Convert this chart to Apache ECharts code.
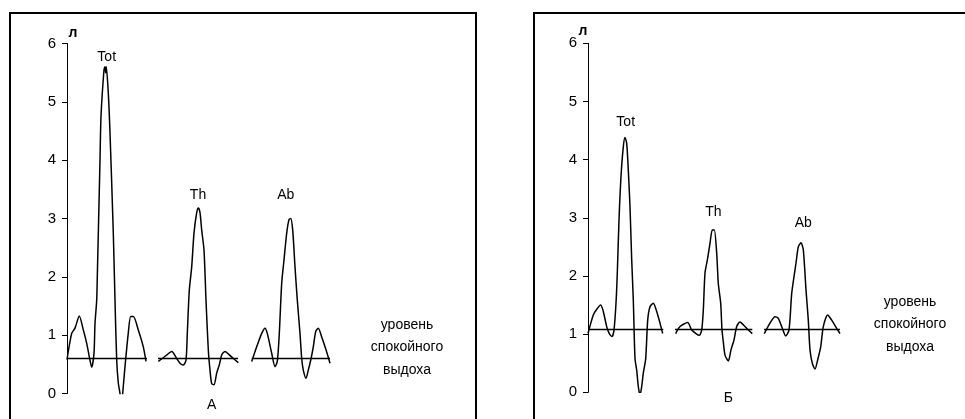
<!DOCTYPE html>
<html>
<head>
<meta charset="utf-8">
<script src="https://cdn.jsdelivr.net/npm/echarts@6/dist/echarts.min.js"></script>
<style>html,body{margin:0;padding:0;background:#fff;}#c{width:965px;height:419px;}</style>
</head>
<body>
<div id="c"></div>
<script>
// y-axis ticks (litres)
const yTicks = [0, 1, 2, 3, 4, 5, 6];

// Panel A (left): time (arbitrary units), volume (l)
const aTotT = [0, 4.7, 8, 12.3, 16.3, 19.7, 23, 24.7, 27, 28, 29.7, 30.3, 33, 34, 37, 38, 38.7, 39.3, 41.3, 43, 46.3, 48, 49.7, 51.3, 53, 54.5, 55.7, 58, 61.3, 63.7, 66.3, 71.3, 76.3, 79];
const aTotV = [0.58, 1.03, 1.12, 1.33, 1.09, 0.86, 0.57, 0.45, 0.69, 1.2, 1.6, 2.0, 4.0, 4.75, 5.55, 5.6, 5.5, 5.6, 5.15, 4.47, 2.75, 1.6, 0.57, 0.18, 0, -0.3, 0, 0.46, 1.04, 1.32, 1.32, 1.09, 0.8, 0.55];
const aThT = [91.3, 99.7, 104.7, 109.7, 113, 116.3, 119, 120.3, 122.3, 124.7, 127, 129.7, 131.3, 133, 134.7, 137, 139, 141.3, 143, 144.7, 147, 149.7, 152.3, 154.7, 158, 161.3, 166.3, 171.3];
const aThV = [0.55, 0.66, 0.72, 0.6, 0.52, 0.49, 0.57, 1.03, 1.77, 2.17, 2.75, 3.1, 3.18, 3.1, 2.8, 2.46, 1.6, 0.75, 0.4, 0.17, 0.15, 0.35, 0.49, 0.66, 0.72, 0.68, 0.6, 0.53];
const aAbT = [184.7, 189.7, 194.7, 198, 200.3, 204.7, 208, 210.3, 212.3, 214.7, 217, 219.7, 222, 223.7, 225.7, 228, 230.3, 233, 234.7, 236.3, 239, 241.3, 243.7, 246.3, 248.7, 251.3, 254.7, 259, 263];
const aAbV = [0.55, 0.8, 1.03, 1.12, 1.03, 0.69, 0.46, 0.55, 1.03, 1.89, 2.29, 2.75, 2.98, 3.0, 2.8, 2.17, 1.6, 1.03, 0.6, 0.4, 0.26, 0.4, 0.57, 0.8, 1.06, 1.12, 0.97, 0.75, 0.52];
const aRest = 0.6;
const aRestSpans = [[0, 80], [91, 171], [184.7, 263]];

// Panel Б (right)
const bTotT = [0, 5.3, 9.3, 12.7, 15.3, 18.7, 21.3, 24, 26, 28, 29.3, 31, 33, 35.3, 37, 38.7, 40.3, 42, 43.7, 45.3, 47, 48.7, 50.3, 52, 53.7, 55.3, 57.7, 59.7, 62, 65.3, 68.7, 72, 74.7];
const bTotV = [1.01, 1.33, 1.44, 1.5, 1.39, 1.13, 1.01, 0.96, 1.07, 1.53, 2.05, 2.96, 3.71, 4.22, 4.38, 4.28, 3.82, 3.19, 2.28, 1.59, 0.58, 0.38, 0.1, -0.05, 0.1, 0.33, 0.58, 1.24, 1.47, 1.53, 1.39, 1.19, 1.01];
const bThT = [87.7, 92, 99.7, 103.7, 108, 111.3, 113.7, 115.3, 117, 119.3, 122, 124.3, 126.3, 128.7, 130.3, 132.7, 134, 135.3, 137, 140.3, 143, 146, 148.7, 152, 155.3, 160.3, 164.3];
const bThV = [1.01, 1.13, 1.2, 1.07, 1.01, 0.98, 1.07, 1.41, 2.05, 2.27, 2.56, 2.79, 2.79, 2.39, 1.87, 1.53, 1.07, 0.87, 0.64, 0.54, 0.73, 0.9, 1.13, 1.21, 1.16, 1.07, 1.01];
const bAbT = [176.3, 182, 187, 190.3, 194.3, 197.7, 201, 203.7, 206, 208, 210.3, 213, 215.3, 218, 220.3, 222, 224.3, 227, 229.7, 232.7, 235.3, 239.7, 243.7, 248.7, 252];
const bAbV = [1.01, 1.19, 1.3, 1.27, 1.1, 0.97, 1.07, 1.7, 1.99, 2.22, 2.5, 2.57, 2.45, 1.76, 1.24, 0.73, 0.5, 0.4, 0.56, 0.78, 1.13, 1.33, 1.24, 1.1, 1.01];
const bRest = 1.08;
const bRestSpans = [[0, 75.3], [87, 164.3], [176, 252]];

const restLabel = ['уровень', 'спокойного', 'выдоха'];

const FONT = '"Liberation Sans", Arial, sans-serif';
const zip = (t, v) => t.map((x, i) => [x, v[i]]);

function curve(t, v, g) {
  return { type: 'line', xAxisIndex: g, yAxisIndex: g, data: zip(t, v), smooth: 0.25,
    symbol: 'none', clip: true, silent: true, lineStyle: { color: '#000', width: 1.5 } };
}
function rest(spans, level, g) {
  return spans.map(s => ({ type: 'line', xAxisIndex: g, yAxisIndex: g,
    data: [[s[0], level], [s[1], level]], symbol: 'none', silent: true,
    lineStyle: { color: '#000', width: 1.5 } }));
}
function yAx(g) {
  return { type: 'value', gridIndex: g, min: 0, max: 6, interval: 1,
    axisLine: { show: true, lineStyle: { color: '#000', width: 1 } },
    axisTick: { show: true, inside: false, length: 5, lineStyle: { color: '#000' } },
    axisLabel: { color: '#000', fontFamily: FONT, fontSize: 15, margin: 11,
      formatter: v => yTicks.includes(v) ? String(v) : '' },
    splitLine: { show: false } };
}
function txt(x, y, s, opt) {
  return { type: 'text', x: x, y: y, style: { text: s, fill: '#000',
    font: (opt && opt.bold ? 'bold ' : '') + '14px ' + FONT, align: 'center', verticalAlign: 'middle' } };
}

const chart = echarts.init(document.getElementById('c'), null, { renderer: 'canvas' });
chart.setOption({
  animation: false,
  backgroundColor: '#fff',
  grid: [
    { left: 67, top: 43.5, width: 400, height: 350 },
    { left: 588, top: 43.3, width: 370, height: 349 }
  ],
  xAxis: [
    { type: 'value', gridIndex: 0, min: 0, max: 400, show: false },
    { type: 'value', gridIndex: 1, min: 0, max: 370, show: false }
  ],
  yAxis: [yAx(0), yAx(1)],
  series: [
    curve(aTotT, aTotV, 0), curve(aThT, aThV, 0), curve(aAbT, aAbV, 0),
    ...rest(aRestSpans, aRest, 0),
    curve(bTotT, bTotV, 1), curve(bThT, bThV, 1), curve(bAbT, bAbV, 1),
    ...rest(bRestSpans, bRest, 1)
  ],
  graphic: [
    { type: 'rect', shape: { x: 10, y: 13, width: 466, height: 430 }, style: { fill: 'none', stroke: '#000', lineWidth: 2 } },
    { type: 'rect', shape: { x: 534, y: 13, width: 450, height: 430 }, style: { fill: 'none', stroke: '#000', lineWidth: 2 } },
    txt(73, 33, 'л', { bold: true }),
    txt(583, 31, 'л', { bold: true }),
    txt(106.7, 57, 'Tot'), txt(198, 195, 'Th'), txt(285.7, 195, 'Ab'),
    txt(211.7, 405, 'А'),
    txt(625.7, 122, 'Tot'), txt(713.3, 212, 'Th'), txt(803.3, 223, 'Ab'),
    txt(728.3, 398, 'Б'),
    txt(407, 325, restLabel[0]), txt(407, 347, restLabel[1]), txt(407, 370, restLabel[2]),
    txt(910, 302, restLabel[0]), txt(910, 324, restLabel[1]), txt(910, 347, restLabel[2])
  ]
});
</script>
</body>
</html>
